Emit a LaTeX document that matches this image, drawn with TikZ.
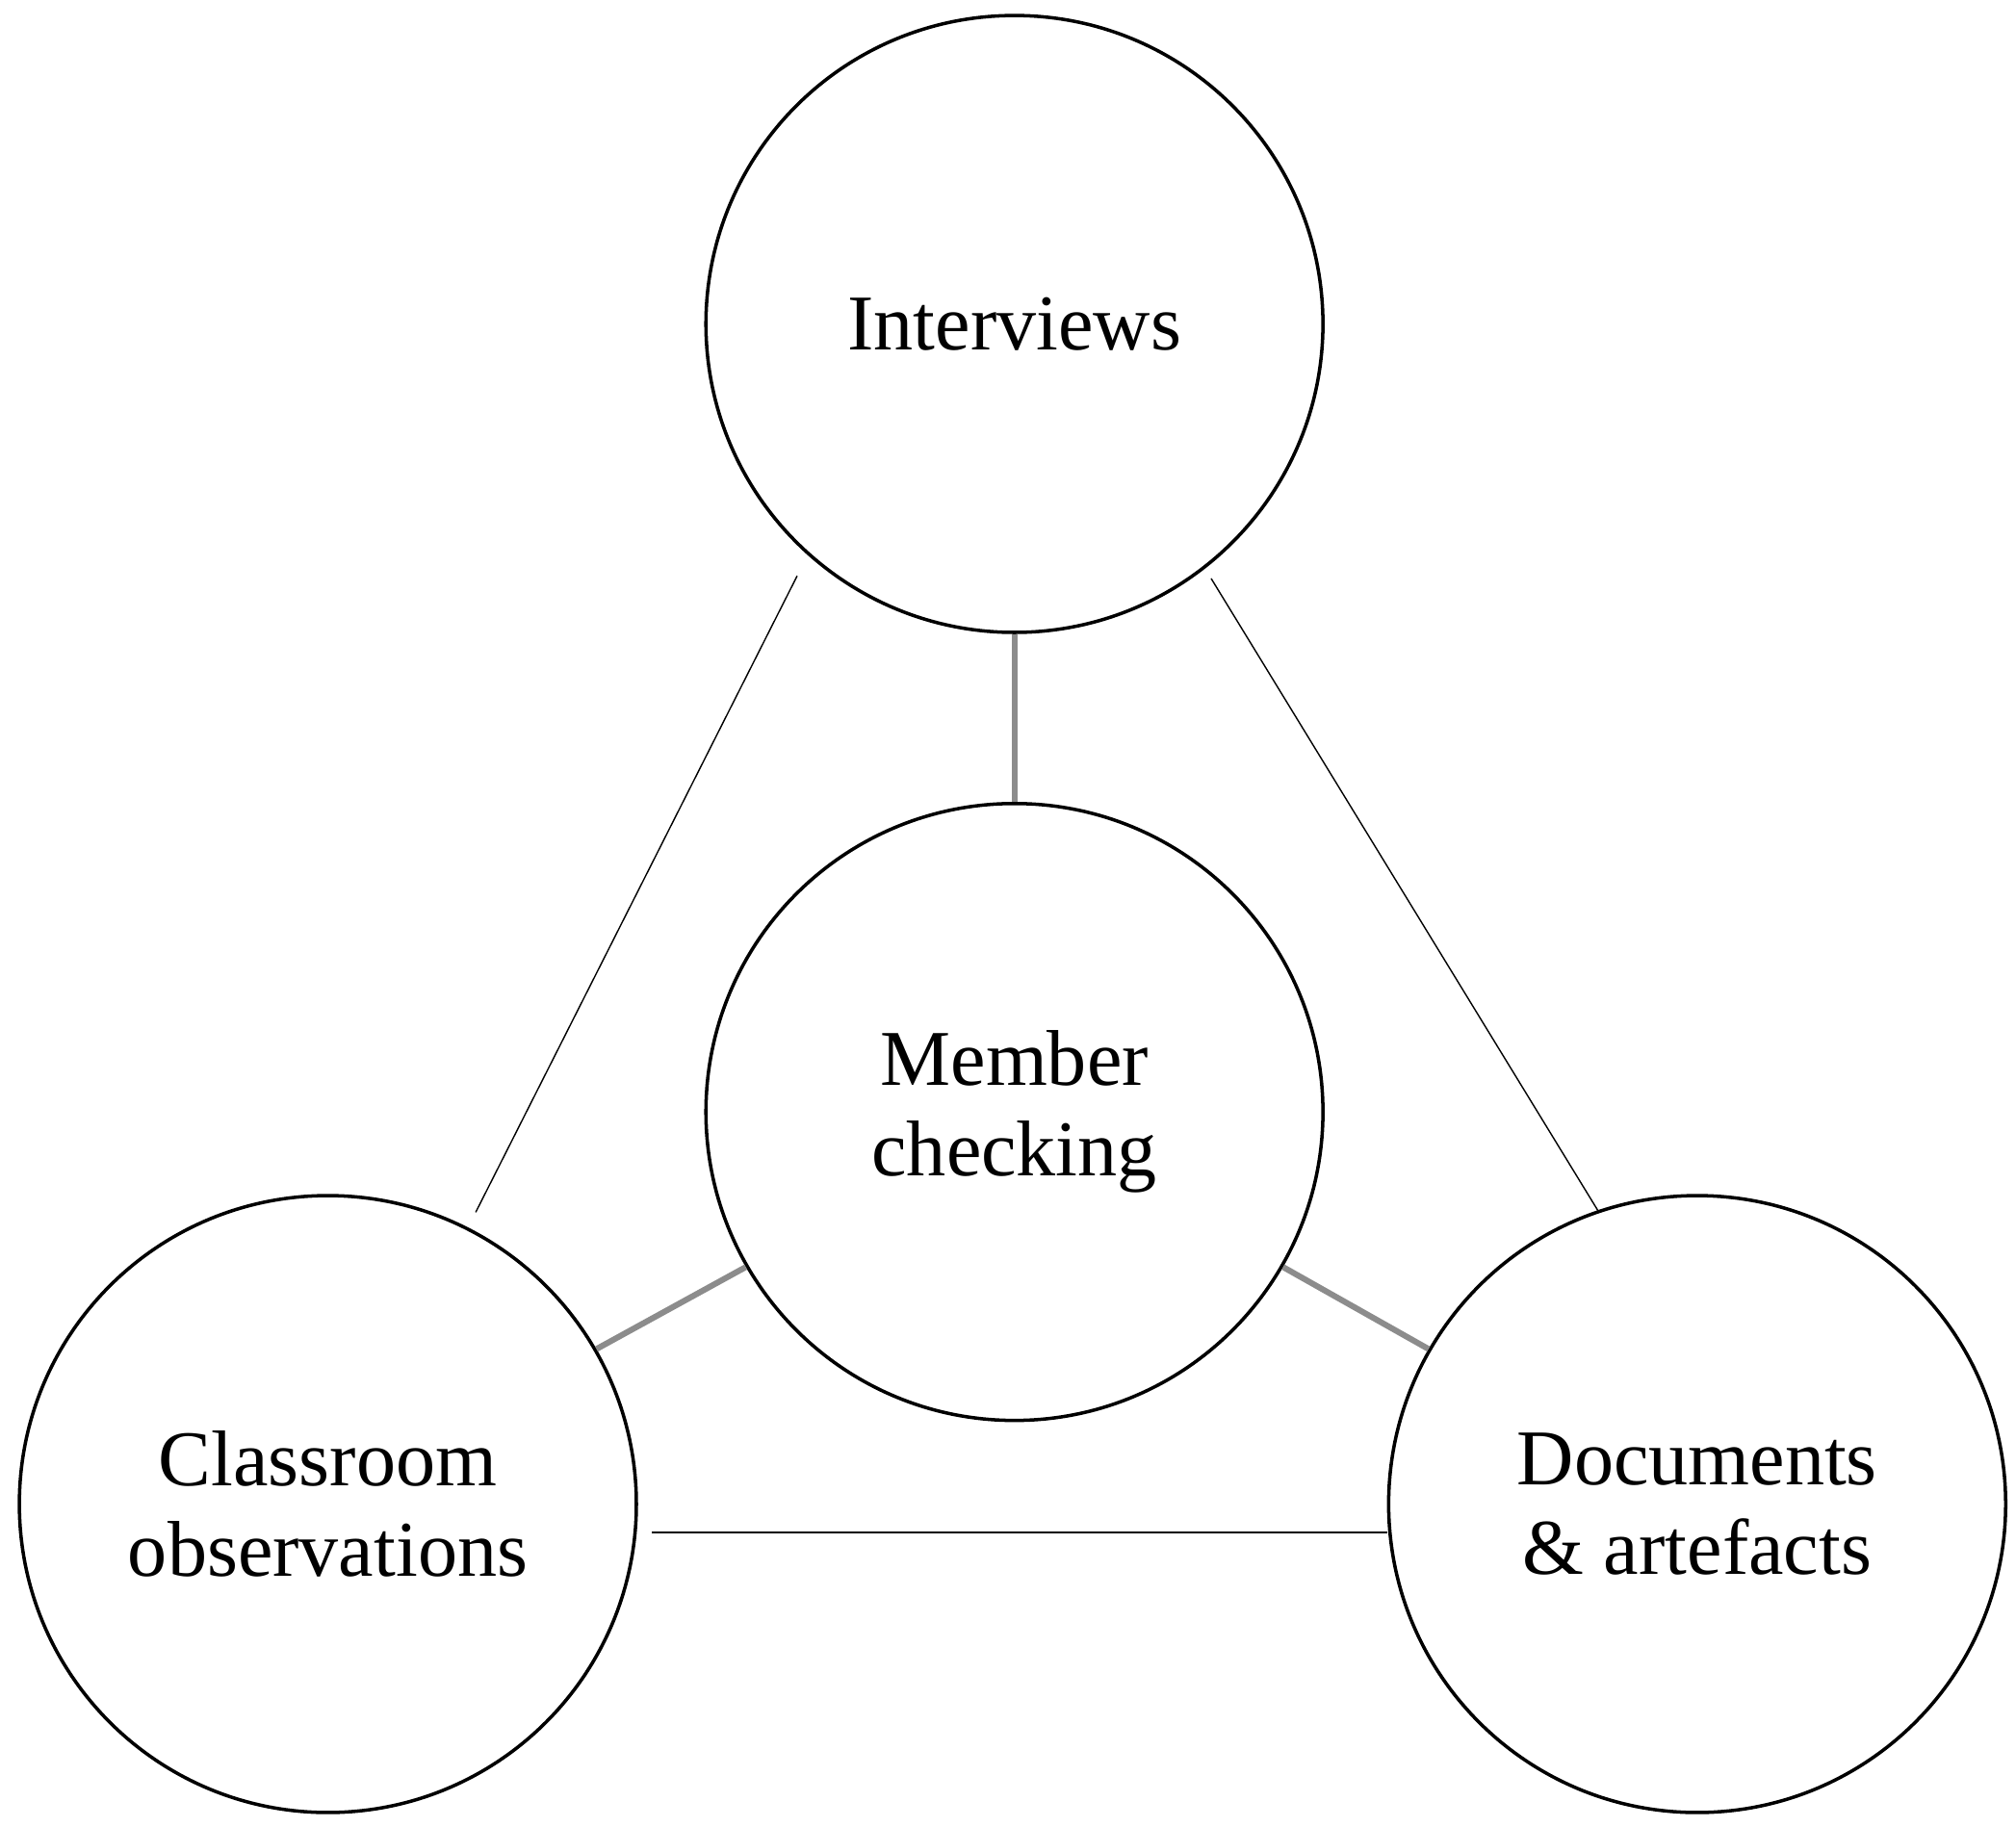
\documentclass[tikz,border=0pt]{standalone}
\usepackage{fontspec}
\setmainfont{Liberation Serif}
\begin{document}
\begin{tikzpicture}[x=0.02cm,y=-0.02cm,
  circ/.style={circle,draw,line width=1.5pt,minimum size=9.6cm,inner sep=0pt,align=center,font=\fontsize{35}{40}\selectfont},
  thin/.style={line width=0.6pt},
  grey/.style={draw=black!45,line width=2.6pt}]
\useasboundingbox (0,0) rectangle (1568,1421);
\node[circ] (int) at (789,252) {Interviews};
\node[circ] (mem) at (789,865) {Member\\checking};
\node[circ] (cls) at (255,1170) {Classroom\\observations};
\node[circ] (doc) at (1320,1170) {Documents\\\& artefacts};
\coordinate (a1) at (620,448); \coordinate (a2) at (370,943);
\coordinate (b1) at (942,450); \coordinate (b2) at (1243,942);
\coordinate (c1) at (507,1192);
\draw[thin] (a1) -- (a2);
\draw[thin] (b1) -- (b2);
\draw[thin] (c1) -- (doc.west|-c1);
\draw[grey] (int.south) -- (mem.north);
\draw[grey] (cls.30) -- (mem.210);
\draw[grey] (mem.330) -- (doc.150);
\end{tikzpicture}
\end{document}
